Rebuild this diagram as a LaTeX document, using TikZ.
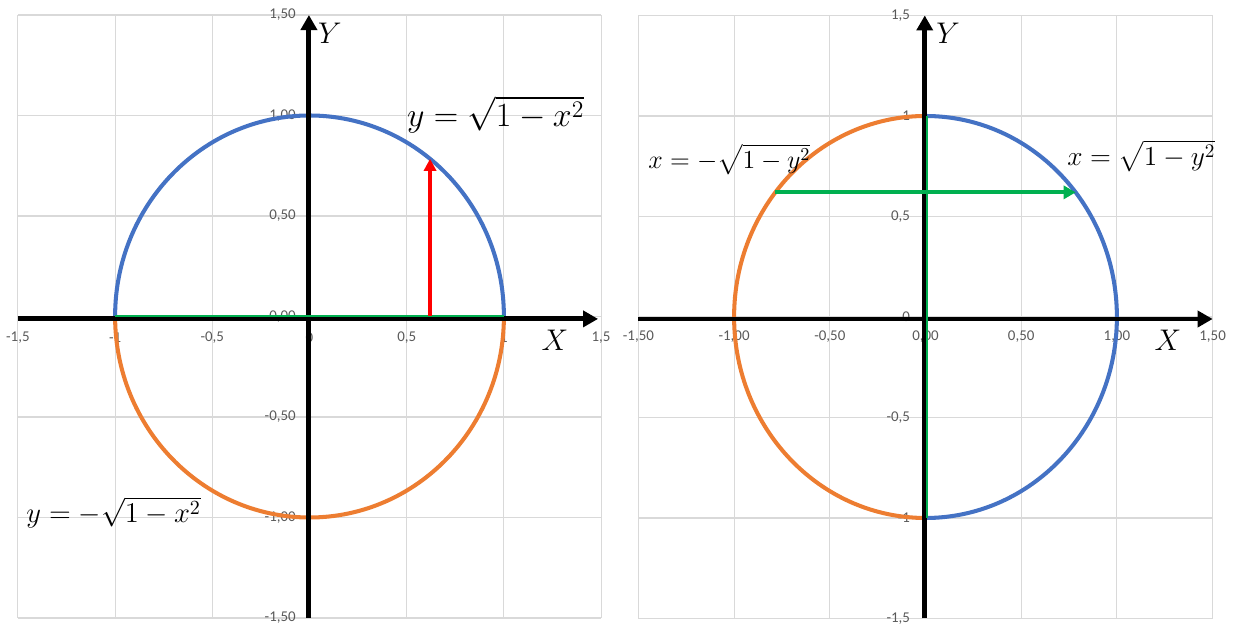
\RequirePackage{fix-cm}
\documentclass[tikz,border=0pt]{standalone}
\usepackage{amsmath}
\usepackage{xcolor}
\usepackage{fontspec}
\usepackage{tikz}
\usetikzlibrary{arrows.meta,positioning,calc}
\newfontfamily\tickfont{Carlito}
\definecolor{gridgray}{HTML}{D9D9D9}
\definecolor{tickgray}{HTML}{595959}
\definecolor{serblue}{HTML}{4472C4}
\definecolor{serorange}{HTML}{ED7D31}
\definecolor{sergreen}{HTML}{00B050}
\tikzset{
  gridline/.style={gridgray,line width=0.6pt},
  axisline/.style={line width=2.8pt,-{Triangle[length=0.3cm,width=0.32cm]}},
  curve/.style={line width=2.3pt},
  ticklbl/.style={font=\tickfont\fontsize{8.5}{10}\selectfont,text=tickgray,inner sep=1pt},
  eqlbl/.style={font=\fontsize{#1}{22}\selectfont,inner sep=0pt,anchor=base west},
  axlbl/.style={font=\fontsize{17}{20}\selectfont,inner sep=0pt},
}

\begin{document}
\begin{tikzpicture}[>=latex]
  \useasboundingbox (0,0) rectangle (24.76,12.5);
  % left chart: y as function of x
  \begin{scope}[shift={(6.19,6.17)},xscale=3.888,yscale=4.02]
    \foreach \g in {-1.5,-1,-0.5,0,0.5,1,1.5} {
      \draw[gridline] (\g,-1.5)--(\g,1.5);
      \draw[gridline] (-1.5,\g)--(1.5,\g);
    }
    \foreach \v/\t [count=\i] in {1.5/{1,50},1/{1,00},0.5/{0,50},0/{0,00},-0.5/{-0,50},-1/{-1,00},-1.5/{-1,50}}
      \node[ticklbl,anchor=east] (Lyt\i) at (-0.06,\v) {\t};
    \foreach \v/\t [count=\i] in {-1.5/{-1,5},-1/{-1},-0.5/{-0,5},0/{0},0.5/{0,5},1/{1},1.5/{1,5}}
      \node[ticklbl] (Lxt\i) at (\v,-0.105) {\t};
    \draw[curve,serblue] (1,0) arc[start angle=0,end angle=180,x radius=1,y radius=1];
    \draw[curve,serorange] (-1,0) arc[start angle=180,end angle=360,x radius=1,y radius=1];
    \coordinate (Lxs) at (-1.5,-0.012);
    \coordinate (Lxe) at (1.484,-0.012);
    \coordinate (Lys) at (-0.003,-1.5);
    \coordinate (Lye) at (-0.003,1.5);
    \draw[axisline] (Lxs)--(Lxe);
    \draw[axisline] (Lys)--(Lye);
    \coordinate (Lgs) at (-1,0.004);
    \coordinate (Lge) at (1,0.004);
    \draw[sergreen,line width=1.1pt] (Lgs)--(Lge);
    \coordinate (Lfoot) at (0.62,0.004);
    \coordinate (Lhit) at (0.62,{sqrt(1-0.62*0.62)});
    \draw[red,line width=2.3pt,-{Triangle[length=0.24cm,width=0.24cm]}] (Lfoot)--(Lhit);
    \node[axlbl] (LX) at (1.263,-0.117) {$X$};
    \node[axlbl] (LY) at (0.105,1.41) {$Y$};
    \node[eqlbl=19.3] (Lup) at (0.50,0.943) {$y=\sqrt{1-x^2}$};
    \node[eqlbl=16.3] (Llow) at (-1.458,-1.027) {$y=-\sqrt{1-x^2}$};
  \end{scope}
  % right chart: x as function of y
  \begin{scope}[shift={(18.51,6.16)},xscale=3.828,yscale=4.02]
    \foreach \g in {-1.5,-1,-0.5,0,0.5,1,1.5} {
      \draw[gridline] (\g,-1.5)--(\g,1.5);
      \draw[gridline] (-1.5,\g)--(1.5,\g);
    }
    \foreach \v/\t [count=\i] in {1.5/{1,5},1/{1},0.5/{0,5},0/{0},-0.5/{-0,5},-1/{-1},-1.5/{-1,5}}
      \node[ticklbl,anchor=east] (Ryt\i) at (-0.07,\v) {\t};
    \foreach \v/\t [count=\i] in {-1.5/{-1,50},-1/{-1,00},-0.5/{-0,50},0/{0,00},0.5/{0,50},1/{1,00},1.5/{1,50}}
      \node[ticklbl] (Rxt\i) at (\v,-0.1) {\t};
    \draw[curve,serorange] (0,1) arc[start angle=90,end angle=270,x radius=1,y radius=1];
    \draw[curve,serblue] (0,-1) arc[start angle=-90,end angle=90,x radius=1,y radius=1];
    \coordinate (Rxs) at (-1.5,-0.01);
    \coordinate (Rxe) at (1.5,-0.01);
    \coordinate (Rys) at (-0.004,-1.5);
    \coordinate (Rye) at (-0.004,1.5);
    \draw[axisline] (Rxs)--(Rxe);
    \draw[axisline] (Rys)--(Rye);
    \coordinate (Rgs) at (0.01,-1);
    \coordinate (Rge) at (0.01,1);
    \draw[sergreen,line width=1.1pt] (Rgs)--(Rge);
    \coordinate (Rleft) at ({-sqrt(1-0.62*0.62)},0.62);
    \coordinate (Rright) at ({sqrt(1-0.62*0.62)},0.62);
    \draw[sergreen,line width=2.3pt,-{Triangle[length=0.24cm,width=0.26cm]}] (Rleft)--(Rright);
    \node[axlbl] (RX) at (1.267,-0.115) {$X$};
    \node[axlbl] (RY) at (0.118,1.413) {$Y$};
    \node[eqlbl=14.8] (Rneg) at (-1.45,0.741) {$x=-\sqrt{1-y^2}$};
    \node[eqlbl=15.6] (Rpos) at (0.739,0.756) {$x=\sqrt{1-y^2}$};
  \end{scope}
\end{tikzpicture}
\end{document}
